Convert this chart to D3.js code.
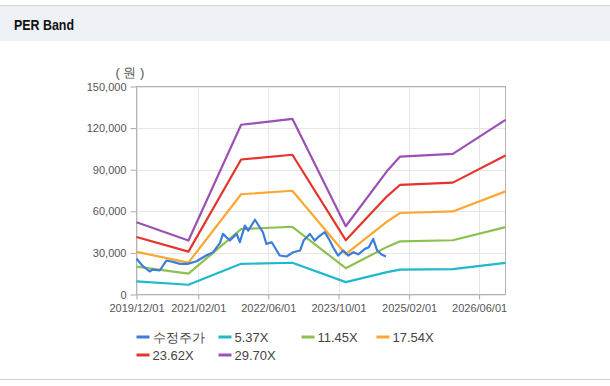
<!DOCTYPE html>
<html>
<head>
<meta charset="utf-8">
<script src="https://cdn.jsdelivr.net/npm/d3@7"></script>
<style>
  body { margin: 0; background: #fff; font-family: 'Liberation Sans', Arial, sans-serif; }
  #chart { width: 610px; height: 386px; }
</style>
</head>
<body>
<div id="chart"></div>
<script>
// band knots (date + value per multiple)
const bandDates = ['2019-12-01', '2020-11-25', '2021-11-25', '2022-11-15', '2023-11-20', '2024-09-01', '2024-12-01', '2025-12-01', '2026-12-01'];
const band537 = [9419, 7035, 22130, 22908, 8904, 16100, 17990, 18344, 22774];
const band1145 = [20083, 15000, 47186, 48846, 18984, 34330, 38358, 39113, 48560];
const band1754 = [30765, 22977, 72282, 74826, 29081, 52560, 58759, 59917, 74387];
const band2362 = [41430, 30942, 97338, 100763, 39162, 70780, 79127, 80686, 100172];
const band2970 = [52094, 38907, 122394, 126700, 49243, 89000, 99495, 101455, 125958];

// adjusted price
const priceDates = ['2019-12-01', '2020-01-10', '2020-03-01', '2020-03-20', '2020-05-10', '2020-06-25', '2020-08-10',
  '2020-09-28', '2020-11-20', '2021-01-20', '2021-03-28', '2021-05-15', '2021-07-01', '2021-07-22', '2021-09-08',
  '2021-10-25', '2021-11-16', '2021-12-21', '2022-01-13', '2022-03-01', '2022-04-03', '2022-04-25', '2022-05-19',
  '2022-06-25', '2022-07-16', '2022-08-19', '2022-10-06', '2022-11-21', '2023-01-07', '2023-02-01', '2023-03-16',
  '2023-04-19', '2023-05-12', '2023-06-28', '2023-08-01', '2023-08-24', '2023-09-28', '2023-11-03', '2023-12-07',
  '2024-01-12', '2024-02-15', '2024-04-01', '2024-04-28', '2024-05-28', '2024-06-25', '2024-07-25', '2024-08-25'];
const priceValues = [25800, 20900, 16600, 18000, 17300, 24500, 23500,
  22100, 22100, 24000, 28100, 30500, 37000, 43700, 38900,
  43700, 37700, 49700, 46100, 53900, 48500, 44900, 36500,
  37700, 34100, 28100, 27400, 30500, 31700, 38900, 43700,
  38900, 41300, 45000, 38900, 34100, 28100, 31700, 28100,
  30500, 29000, 32900, 34100, 40100, 31700, 28800, 27400];

const yTicks = [0, 30000, 60000, 90000, 120000, 150000];
const xTicks = ['2019-12-01', '2021-02-01', '2022-06-01', '2023-10-01', '2025-02-01', '2026-06-01'];

const seriesNames = ['수정주가', '5.37X', '11.45X', '17.54X', '23.62X', '29.70X'];
const seriesColors = ['#3b7dd8', '#1fb8cc', '#8cc04f', '#fba732', '#e5342b', '#9b51b3'];

const parse = d3.timeParse('%Y-%m-%d');
const W = 610, H = 386;
const plotL = 136.5, plotR = 505.5, plotT = 86.5, plotB = 294.5;

const svg = d3.select('#chart').append('svg').attr('width', W).attr('height', H);

// header
svg.append('line').attr('x1', 0).attr('x2', W).attr('y1', 5.5).attr('y2', 5.5).attr('stroke', '#cfd3d8');
svg.append('rect').attr('x', 0).attr('y', 6).attr('width', W).attr('height', 35).attr('fill', '#eef2f7');
svg.append('text').attr('x', 14).attr('y', 29.5).attr('font-size', '15px').attr('font-weight', 'bold')
  .attr('textLength', 60).attr('lengthAdjust', 'spacingAndGlyphs')
  .attr('fill', '#111').text('PER Band');
svg.append('line').attr('x1', 0).attr('x2', W).attr('y1', 379.5).attr('y2', 379.5).attr('stroke', '#cfd3d8');

const x = d3.scaleTime().domain([parse('2019-12-01'), parse('2026-12-01')]).range([plotL, plotR]);
const y = d3.scaleLinear().domain([0, 150000]).range([plotB, plotT]);

// grid
svg.append('g').selectAll('line').data(yTicks).enter().append('line')
  .attr('x1', plotL).attr('x2', plotR)
  .attr('y1', d => Math.round(y(d)) + 0.5).attr('y2', d => Math.round(y(d)) + 0.5)
  .attr('stroke', '#e6e6e6');
svg.append('g').selectAll('line').data(xTicks).enter().append('line')
  .attr('x1', d => Math.round(x(parse(d))) + 0.5).attr('x2', d => Math.round(x(parse(d))) + 0.5)
  .attr('y1', plotT).attr('y2', plotB)
  .attr('stroke', '#e6e6e6');

// axes
const yAxis = svg.append('g').attr('transform', `translate(${plotL},0)`)
  .call(d3.axisLeft(y).tickValues(yTicks).tickSize(6).tickPadding(4).tickFormat(d3.format(',')));
const xAxis = svg.append('g').attr('transform', `translate(0,${plotB})`)
  .call(d3.axisBottom(x).tickValues(xTicks.map(parse)).tickSize(5).tickPadding(5).tickFormat(d3.timeFormat('%Y/%m/%d')));
[yAxis, xAxis].forEach(a => {
  a.select('.domain').remove();
  a.selectAll('line').attr('stroke', '#a8a8a8');
  a.selectAll('text').attr('fill', '#555').style('font-size', '11px').style('font-family', "'Liberation Sans', Arial, sans-serif");
});

// frame
svg.append('rect').attr('x', plotL).attr('y', plotT).attr('width', plotR - plotL).attr('height', plotB - plotT)
  .attr('fill', 'none').attr('stroke', '#b4b4b4');

svg.append('text').attr('x', 130).attr('y', 77).attr('text-anchor', 'middle')
  .attr('font-size', '13px').attr('fill', '#555').text('( 원 )');

const line = d3.line().x(d => x(d[0])).y(d => y(d[1]));
const bands = [band537, band1145, band1754, band2362, band2970];
const bandDateObjs = bandDates.map(parse);

bands.forEach((vals, i) => {
  svg.append('path').datum(vals.map((v, j) => [bandDateObjs[j], v]))
    .attr('fill', 'none').attr('stroke', seriesColors[i + 1]).attr('stroke-width', 2.2)
    .attr('stroke-linejoin', 'round').attr('d', line);
});

svg.append('path').datum(priceValues.map((v, j) => [parse(priceDates[j]), v]))
  .attr('fill', 'none').attr('stroke', seriesColors[0]).attr('stroke-width', 2.2)
  .attr('stroke-linejoin', 'round').attr('d', line);

// legend
const legendCols = [0, 82, 165, 240];
const legend = svg.append('g').attr('transform', 'translate(136.5,337)');
seriesNames.forEach((name, i) => {
  const g = legend.append('g')
    .attr('transform', `translate(${legendCols[i % 4]},${Math.floor(i / 4) * 18})`);
  g.append('line').attr('x1', 0).attr('x2', 13).attr('y1', 0).attr('y2', 0)
    .attr('stroke', seriesColors[i]).attr('stroke-width', 3);
  g.append('text').attr('x', 16).attr('y', 5).attr('font-size', '13px').attr('fill', '#444').text(name);
});
</script>
</body>
</html>
